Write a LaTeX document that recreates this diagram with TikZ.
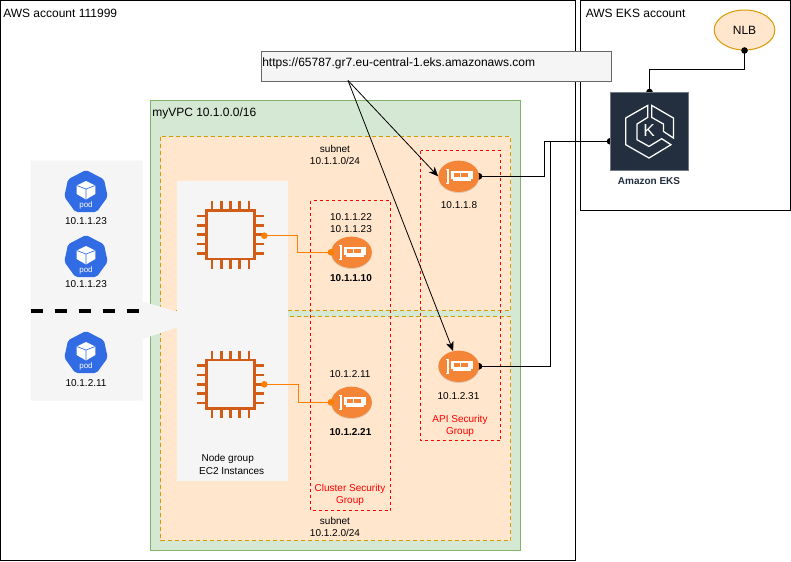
\documentclass[tikz,border=0pt]{standalone}
\usepackage{fontspec}
\setmainfont{Liberation Sans}
\usetikzlibrary{arrows.meta,calc,shapes.geometric}
\definecolor{vpcfill}{HTML}{D5E8D4}
\definecolor{vpcline}{HTML}{82B366}
\definecolor{subfill}{HTML}{FFE6CC}
\definecolor{subline}{HTML}{D79B00}
\definecolor{boxfill}{HTML}{F5F5F5}
\definecolor{urlline}{HTML}{666666}
\definecolor{eksdark}{HTML}{232F3E}
\definecolor{podblue}{HTML}{326CE5}
\definecolor{nicfill}{HTML}{F58536}
\definecolor{chipc}{HTML}{D05C17}
\definecolor{wire}{HTML}{FF8000}
\tikzset{
  every node/.style={font=\fontsize{7.5pt}{9pt}\selectfont,text=black,inner sep=0pt,align=center},
  acct/.style={draw=black,line width=0.75pt,fill=white},
  vpc/.style={draw=vpcline,fill=vpcfill,line width=0.75pt},
  subnetbox/.style={draw=subline,fill=subfill,line width=0.75pt,dash pattern=on 3pt off 2.25pt},
  sgbox/.style={draw=red,line width=0.75pt,dash pattern=on 2.25pt off 2.25pt},
  greybox/.style={fill=boxfill,draw=none},
  big/.style={font=\fontsize{9pt}{11pt}\selectfont},
  redlbl/.style={text=red},
  boldlbl/.style={font=\fontsize{7.5pt}{9pt}\selectfont\bfseries},
  nic/.style={ellipse,fill=nicfill,minimum width=30.5pt,minimum height=23.5pt,
    preaction={fill=black,opacity=0.12,transform canvas={yshift=-0.8pt}}},
  blackwire/.style={draw=black,line width=0.8pt},
  orangewire/.style={draw=wire,line width=0.75pt},
  arrowline/.style={draw=black,line width=0.6pt,-{Stealth[length=7pt,width=6pt,inset=2pt]}},
}
% NIC icon, in pixel offsets from its centre
\newcommand{\nicicon}[1]{%
  \begin{scope}[shift={(#1)}]
    \draw[white,line width=1pt] (-12.7,-7) -- (-10.6,-7) -- (-10.6,7) -- (-12.7,7);
    \fill[white] (-8,-5.2) rectangle (14,2.8);
    \fill[white] (-6,2.8) rectangle (12,4.5);
    \fill[nicfill] (-5,-3.2) rectangle (1,1);
    \fill[nicfill] (2.6,-3.2) rectangle (9.5,1);
  \end{scope}}
% chip icon
\newcommand{\chipicon}[1]{%
  \begin{scope}[shift={(#1)}]
    \draw[chipc,line width=2pt] (-24.2,-24.2) rectangle (24.2,24.2);
    \foreach \k in {-18.6,-9.3,0,9.3,18.6}{
      \draw[chipc,line width=2pt] (\k,-33.8) -- (\k,-24.2);
      \draw[chipc,line width=2pt] (\k,24.2) -- (\k,33.8);
      \draw[chipc,line width=2pt] (-33.8,\k) -- (-24.2,\k);
      \draw[chipc,line width=2pt] (24.2,\k) -- (33.8,\k);
    }
  \end{scope}}
% pod icon
\newcommand{\podicon}[1]{%
  \begin{scope}[shift={(#1)}]
    \fill[podblue,rounded corners=1.5pt] (0,-21) -- (18,-11.7) -- (21.7,5.7) -- (10.7,21) -- (-10.7,21) -- (-21.7,5.7) -- (-18,-11.7) -- cycle;
    \fill[white] (0,-10) -- (9.3,-5.5) -- (9.3,3) -- (0,8.5) -- (-9.3,3) -- (-9.3,-5.5) -- cycle;
    \draw[podblue,line width=0.5pt] (-9.3,-5.5) -- (0,-2) -- (9.3,-5.5) (0,-2) -- (0,8.5);
    \node[text=white,font=\fontsize{6pt}{7pt}\selectfont] at (0,14.5) {pod};
  \end{scope}}
\begin{document}
\begin{tikzpicture}[x=0.75pt,y=-0.75pt]
\useasboundingbox (0,0) rectangle (791,561);
\fill[white] (0,0) rectangle (791,561);
% accounts
\draw[acct] (0.5,0.5) rectangle (575,560.5);
\draw[acct] (580.5,0.5) rectangle (790.5,210.5);
\node[big,anchor=west] (acctA) at (3,13) {AWS account 111999};
\node[big,anchor=west] (acctB) at (585.5,13.5) {AWS EKS account};
% VPC and subnets
\draw[vpc] (150.5,100.5) rectangle (520.5,550.5);
\node[big,anchor=west] (vpclbl) at (152,113) {myVPC 10.1.0.0/16};
\draw[subnetbox] (160.5,136.5) rectangle (510.5,310.5);
\draw[subnetbox] (160.5,316.5) rectangle (510.5,540.5);
\node (sub1) at (335,154.5) {subnet\\10.1.1.0/24};
\node (sub2) at (335,526.5) {subnet\\10.1.2.0/24};
% pod panel with callout and node group
\fill[greybox] (30.5,160.5) -- (142.5,160.5) -- (142.5,301.5) -- (177,311.5) -- (177,327.5) -- (142.5,339) -- (142.5,400.5) -- (30.5,400.5) -- cycle;
\fill[greybox] (176.5,180.5) rectangle (288,480.5);
\draw[black,line width=3pt,dash pattern=on 9pt off 9pt] (30.5,311.3) -- (141,311.3);
\node (ngl1) at (227.7,459) {Node group};
\node (ngl2) at (231.7,471) {EC2 Instances};
% security groups
\draw[sgbox] (310.5,200.5) rectangle (390.5,510.5);
\draw[sgbox] (420.5,150.5) rectangle (500.5,440.5);
% pods
\podicon{86,191}
\podicon{86,256}
\podicon{86,352}
\node (pa) at (86,220.7) {10.1.1.23};
\node (pb) at (86,284.5) {10.1.1.23};
\node (pc) at (86,383.5) {10.1.2.11};
% chips
\chipicon{230.5,234.7}
\chipicon{230.5,384.3}
\coordinate (chipA) at (264.3,235.7);
\coordinate (chipB) at (264.3,384.3);
% coordinates of the NIC centres and the EKS sides
\coordinate (nicCe) at (479,176.3);
\coordinate (nicDe) at (479,366.3);
\coordinate (eksTop) at (649.5,92);
\coordinate (eksLeft) at (610,141.3);
% NLB
\node[draw=subline,fill=subfill,ellipse,line width=0.75pt,minimum width=45.5pt,minimum height=30pt,big] (nlb) at (744.5,30) {NLB};
% black wires go under the NICs and the EKS square
\draw[blackwire] (nlb.south) -- (744.5,69.5) -- (649.5,69.5) -- (eksTop);
\draw[blackwire] (nicCe) -- (544.3,176.3) -- (544.3,141.3) -- (eksLeft);
\draw[blackwire] (nicDe) -- (550.5,366.3) -- (550.5,141.3) -- (eksLeft);
\fill[black] (nlb.south) circle (3.3);
\fill[black] (eksTop) circle (3.3);
\fill[black] (eksLeft) circle (3.3);
\fill[black] (nicCe) circle (3.3);
\fill[black] (nicDe) circle (3.3);
% NICs
\node[nic] (nicA) at (351.5,252.3) {};
\node[nic] (nicB) at (351.5,402.3) {};
\node[nic] (nicC) at (458.7,176.3) {};
\node[nic] (nicD) at (458.7,366.3) {};
\nicicon{351.5,252.3}
\nicicon{351.5,402.3}
\nicicon{458.7,176.3}
\nicicon{458.7,366.3}
% orange wires
\draw[orangewire] (chipA) -- (297.8,235.7) -- (297.8,252.3) -- (nicA.west);
\draw[orangewire] (chipB) -- (298.2,384.3) -- (298.2,402.3) -- (nicB.west);
\fill[wire] (chipA) circle (3.3);
\fill[wire] (chipB) circle (3.3);
\fill[wire] (nicA.west) circle (3.3);
\fill[wire] (nicB.west) circle (3.3);
% labels
\node (l1) at (351,223.5) {10.1.1.22\\10.1.1.23};
\node[boldlbl] (l2) at (351,278.5) {10.1.1.10};
\node (l3) at (350,374.5) {10.1.2.11};
\node[boldlbl] (l4) at (350.5,432) {10.1.2.21};
\node (l5) at (459,205.5) {10.1.1.8};
\node (l6) at (458.5,396.5) {10.1.2.31};
\node[redlbl] (l7) at (460,425.5) {API Security\\Group};
\node[redlbl] (l8) at (350,495) {Cluster Security\\Group};
% EKS
\node[fill=eksdark,draw=eksdark!65!white,line width=0.5pt,minimum width=58.5pt,minimum height=58.5pt] (eks) at (649.3,131.2) {};
\begin{scope}[shift={(649.2,131.2)},white,line width=0.95pt,line join=miter]
  \draw (-1.5,-25.8) -- (-23.5,-13.2) -- (-23.5,13.5) -- (-0.2,26.8) -- (21.8,13.5) -- (12.5,7.5) -- (-0.2,15.2) -- (-12.2,8.5) -- (-12.2,-7.2) -- (-1.5,-13.8) -- cycle;
  \draw (2.5,-25.8) -- (24.2,-13.2) -- (24.2,6.8) -- (14.2,0.2) -- (14.2,-7.2) -- (2.5,-13.8) -- cycle;
  \node[text=white,font=\fontsize{13pt}{14pt}\selectfont] (kk) at (0,-0.5) {K};
\end{scope}
\node[boldlbl,text=eksdark] (ekslbl) at (649,181.5) {Amazon EKS};
% URL box and arrows
\node[fill=boxfill,draw=urlline,line width=0.75pt,minimum width=262.5pt,minimum height=22.5pt,anchor=north west] (url) at (260.5,50.5) {};
\node[big,anchor=west] (urlt) at (262,63.7) {https://65787.gr7.eu-central-1.eks.amazonaws.com};
\coordinate (urlS) at (348,80.5);
\draw[arrowline] (urlS) -- (nicC.west);
\draw[arrowline] (urlS) -- (nicD.110);
\end{tikzpicture}
\end{document}
